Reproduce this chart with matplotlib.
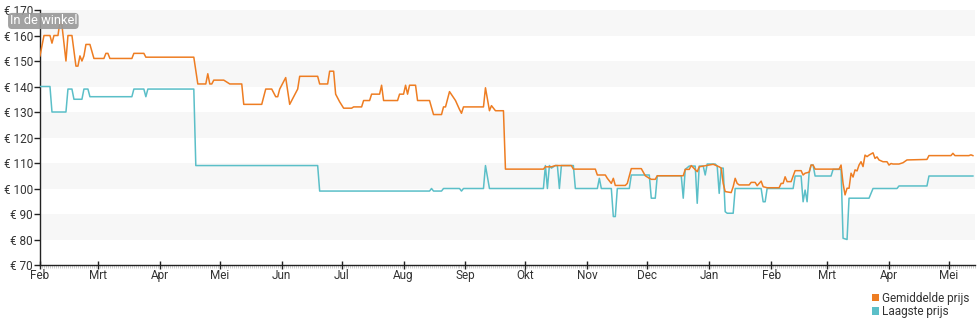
import matplotlib
matplotlib.use("Agg")
import matplotlib.pyplot as plt
import matplotlib.dates as mdates
from matplotlib.patches import Patch
from matplotlib.ticker import FuncFormatter
import pandas as pd

plt.rcParams['font.family'] = ['Roboto', 'DejaVu Sans']

start_date = "2024-02-01"

avg_days = [0, 2, 5, 6, 7, 9, 10, 11, 13, 14, 16, 18, 19, 20, 21, 22, 23, 25, 27, 32, 33, 34, 35, 46, 47, 52, 53, 77,
            79, 83, 84, 85, 86, 87, 92, 95, 101, 102, 111, 113, 116, 118, 119, 120, 123, 125, 127, 129, 130, 139, 140,
            144, 145, 147, 148, 150, 152, 156, 157, 161, 162, 165, 166, 170, 171, 172, 179, 180, 182, 183, 184, 185,
            188, 189, 195, 197, 201, 202, 203, 205, 208, 210, 211, 212, 222, 223, 225, 226, 228, 232, 233, 252, 253,
            256, 258, 266, 267, 278, 279, 283, 284, 286, 287, 288, 293, 294, 296, 301, 303, 305, 306, 308, 309, 322,
            323, 325, 326, 329, 330, 337, 340, 341, 342, 343, 346, 347, 348, 349, 350, 355, 356, 358, 359, 361, 362,
            364, 370, 371, 372, 373, 374, 376, 377, 378, 381, 382, 383, 385, 386, 387, 388, 400, 401, 402, 403, 404,
            405, 406, 407, 408, 409, 410, 411, 412, 413, 414, 415, 417, 418, 419, 420, 422, 424, 425, 426, 427, 430,
            432, 434, 444, 445, 456, 457, 458, 465, 466, 467]
avg_price = [152, 160, 160, 157, 160, 160, 165.5, 164, 150, 160, 160, 148, 148, 152, 150, 152, 156.5, 156.5, 151, 151,
             153, 153, 151, 151, 153, 153, 151.5, 151.5,
             141, 141, 145, 141, 141, 142.5, 142.5, 141, 141, 133, 133, 139, 139, 136, 136, 139, 143.5, 133, 136, 139,
             144, 144, 141, 141, 146, 146, 137, 134, 131.5, 131.5, 132, 132, 134.5, 134.5, 137, 137, 140.5, 134.5,
             134.5, 137, 137, 140.5, 137, 140.5, 140.5, 134.5, 134.5, 129, 129, 132, 132, 138, 134.5, 131, 129.5, 132,
             132, 139.5, 130.5, 132.5, 130.5, 130.5, 107.6, 107.6, 108.5, 108.5, 109, 109, 107.6, 107.6, 105.3, 105.3,
             104, 102, 104, 101.2, 101.2, 102, 107.8, 107.8, 105, 104, 103.6, 103.6, 105, 105, 107.5, 107.5, 109, 106.6,
             108.5, 109.5, 108.5, 108, 102, 98.8, 98.4, 100.7, 104, 102, 101.4, 101.4, 102.4, 102.4, 101.1, 102.9,
             100.7, 100.3, 100.3, 102, 102, 104.6, 102.7, 102.7, 104.9, 107, 107, 105.3, 106, 106.4, 109.2, 109.2,
             107.6, 107.6, 109.2, 102, 97.5, 100.1, 100.1, 106, 104.5, 107.3, 106.9, 109.2, 110.5, 108.6, 113.1, 112.5,
             113.1, 114, 111.8, 112.4, 111.2, 110.5, 110.5, 109.2, 109.8, 109.6, 109.6, 110.1, 111.2, 111.4, 112.9,
             112.9, 113.8, 112.9, 112.9, 113.2, 112.9]

low_days = [0, 5, 6, 13, 14, 16, 17, 21, 22, 24, 25, 46, 47, 52, 53, 54, 77, 78, 139, 140, 195, 196, 197, 201, 202,
            210, 211, 212, 222, 223, 225, 252, 253, 254, 255, 256, 258, 259, 260, 261, 267, 268, 279, 280, 281, 286,
            287, 288, 289, 295, 296, 305, 306, 308, 309, 321, 322, 323, 325, 328, 329, 330, 332, 333, 334, 338, 339,
            340, 341, 342, 343, 344, 347, 348, 361, 362, 363, 364, 377, 378, 381, 382, 383, 384, 385, 386, 387, 388,
            396, 397, 401, 402, 404, 405, 415, 417, 429, 430, 444, 445, 467]
low_price = [140, 140, 130, 130, 139, 139, 135, 135, 139, 139, 136, 136, 139, 139, 136, 139, 139, 109, 109, 99, 99,
             100, 99, 99, 100, 100, 99, 100, 100, 109, 100, 100, 109, 100, 109, 108, 109, 109, 100, 109, 109, 100, 100,
             104, 100, 100, 89, 89, 100, 100, 105.3, 105.3, 96.2, 96.2, 105, 105, 96.2, 107.5, 108.8, 108.8, 94.2,
             108.8, 108.8, 105.3, 109.6, 109.6, 108.8, 98.1, 108, 108, 90.9, 90.3, 90.3, 100, 100, 94.8, 94.8, 100,
             100, 104.9, 104.9, 94.8, 99.4, 94.8, 106, 109.2, 109.2, 104.9, 104.9, 107.5, 107.5, 80.5, 80, 96.2, 96.2,
             100, 100, 101, 101, 104.9, 104.9]

y_ticks = [70, 80, 90, 100, 110, 120, 130, 140, 150, 160, 170]
month_names = ['Jan', 'Feb', 'Mrt', 'Apr', 'Mei', 'Jun', 'Jul', 'Aug', 'Sep', 'Okt', 'Nov', 'Dec']
series_labels = ["Gemiddelde prijs", "Laagste prijs"]
badge_text = "In de winkel"

c_avg = "#ee7d22"
c_low = "#5bbfc8"

t0 = pd.Timestamp(start_date)
avg_dates = t0 + pd.to_timedelta(avg_days, unit="D")
low_dates = t0 + pd.to_timedelta(low_days, unit="D")

fig = plt.figure(figsize=(9.8, 3.25), dpi=100)
ax = fig.add_axes([0.0408, 0.1846, 0.954, 0.7846])

for lo in range(80, 170, 20):
    ax.axhspan(lo, lo + 10, color="#f7f7f7", zorder=0, lw=0)

ax.plot(low_dates, low_price, color=c_low, lw=1.1, zorder=3)
ax.plot(avg_dates, avg_price, color=c_avg, lw=1.1, zorder=4)

ax.set_ylim(70, 170)
ax.set_xlim(t0, t0 + pd.Timedelta(days=468))
ax.set_yticks(y_ticks)
ax.yaxis.set_major_formatter(FuncFormatter(lambda v, p: f"€ {int(v)}"))

ax.xaxis.set_major_locator(mdates.MonthLocator())
ax.xaxis.set_minor_locator(mdates.DayLocator())
ax.xaxis.set_major_formatter(FuncFormatter(lambda v, p: month_names[mdates.num2date(v).month - 1]))

for s in ["top", "right"]:
    ax.spines[s].set_visible(False)
ax.spines["left"].set_color("#222222")
ax.spines["bottom"].set_color("#222222")
ax.spines["left"].set_linewidth(1.0)
ax.spines["bottom"].set_linewidth(1.0)

ax.tick_params(axis="y", direction="out", length=4, width=1, color="#222222",
               labelsize=8.5, labelcolor="#333333", pad=1)
ax.tick_params(axis="x", which="major", direction="inout", length=6, width=1, color="#222222",
               labelsize=8.5, labelcolor="#333333", pad=0)
ax.tick_params(axis="x", which="minor", direction="out", length=2, width=0.4, color="#aaaaaa")

ax.text(-0.0325, 0.957, badge_text, transform=ax.transAxes, fontsize=9.3, color="white",
        ha="left", va="center", zorder=10, clip_on=False,
        bbox=dict(boxstyle="round,pad=0.12,rounding_size=0.3", fc="#9a9a9a", ec="none", alpha=0.92))

handles = [Patch(facecolor=c_avg, edgecolor="none"), Patch(facecolor=c_low, edgecolor="none")]
fig.legend(handles, series_labels, loc="lower right", bbox_to_anchor=(0.998, -0.005), frameon=False,
           fontsize=8.5, handlelength=0.6, handleheight=0.6, handletextpad=0.25, labelspacing=0.05,
           borderpad=0.2, labelcolor="#333333")

fig.savefig("out.png", dpi=100)
